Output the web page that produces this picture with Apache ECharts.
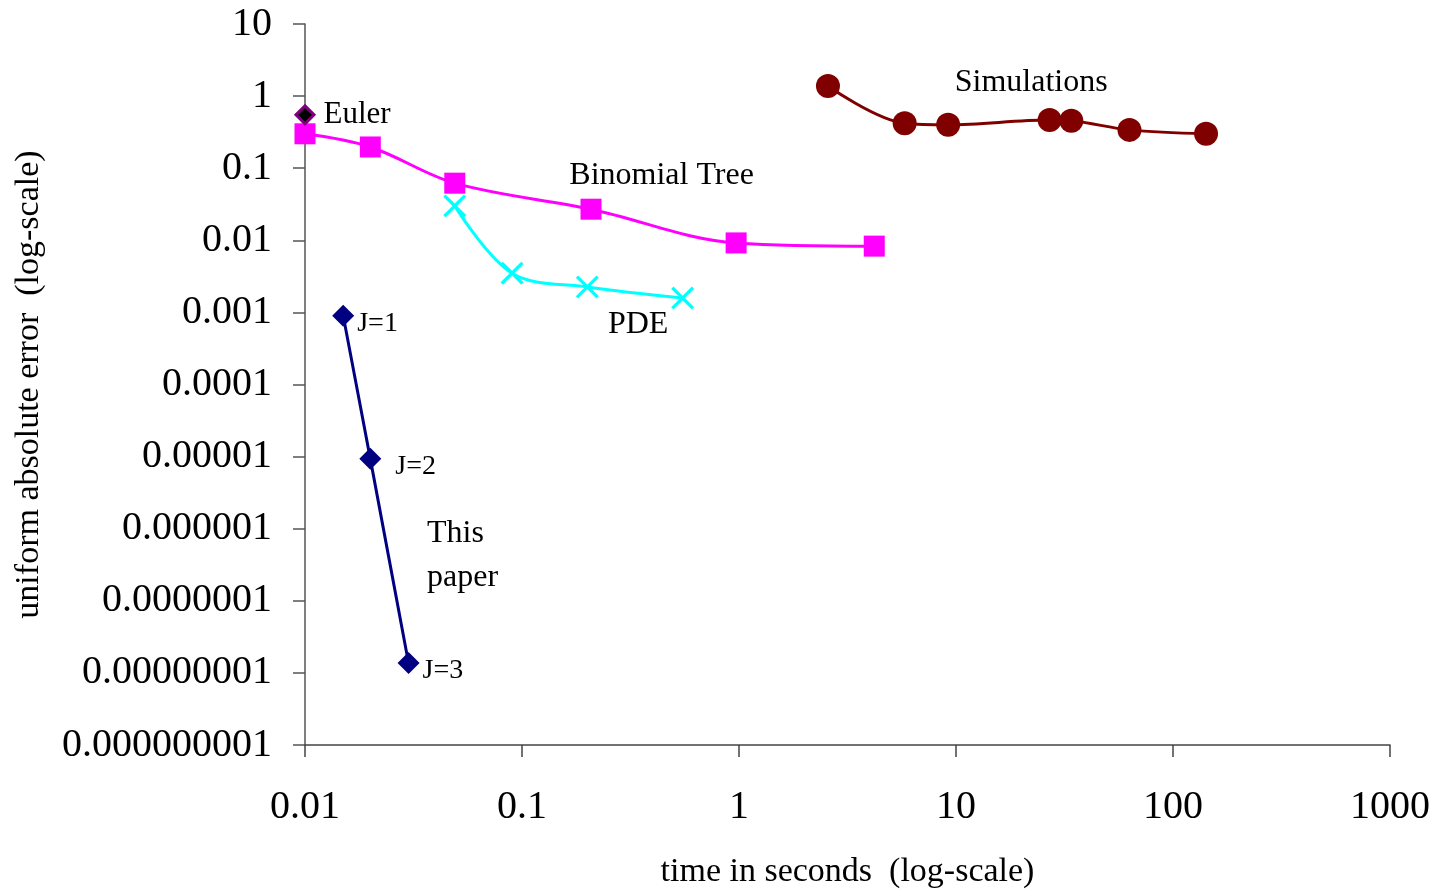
<!DOCTYPE html>
<html>
<head>
<meta charset="utf-8">
<script src="https://cdn.jsdelivr.net/npm/echarts@6/dist/echarts.min.js"></script>
<style>
  html, body { margin: 0; padding: 0; background: #fff; }
  #main { width: 1442px; height: 894px; }
</style>
</head>
<body>
<div id="main"></div>
<script>
// time in seconds / uniform absolute error
let eulerTime = [0.01];
let eulerErr = [0.55];

let binomialTime = [0.01, 0.02, 0.049, 0.208, 0.97, 4.2];
let binomialErr = [0.3, 0.197, 0.062, 0.027, 0.0092, 0.0083];

let pdeTime = [0.049, 0.09, 0.2, 0.55];
let pdeErr = [0.03, 0.0035, 0.00225, 0.00158];

let paperTime = [0.015, 0.02, 0.03];
let paperErr = [0.0009, 0.0000093, 0.0000000137];
let paperLabels = ['J=1', 'J=2', 'J=3'];

let simTime = [2.57, 5.8, 9.2, 27, 34, 63, 142];
let simErr = [1.38, 0.42, 0.4, 0.465, 0.455, 0.34, 0.3];

// free text notes (anchor in data space)
let noteText = ['Binomial Tree', 'PDE', 'Simulations', 'This\npaper'];
let noteTime = [0.44, 0.343, 22.2, 0.0365];
let noteErr = [0.08, 0.00067, 1.52, 0.00000043];
let noteAlign = ['center', 'center', 'center', 'left'];

const FONT = 'Liberation Serif';

function zip(xs, ys) {
  return xs.map((x, i) => [x, ys[i]]);
}

function decimalLabel(v) {
  let e = Math.round(Math.log10(v));
  if (e >= 0) return String(Math.round(v));
  return Number(Math.pow(10, e)).toFixed(-e);
}

let xPath = 'path://M0,1L1,0L5,4L9,0L10,1L6,5L10,9L9,10L5,6L1,10L0,9L4,5Z';

let chart = echarts.init(document.getElementById('main'));

let option = {
  animation: false,
  grid: {
    left: 305,
    right: 52,
    top: 24,
    bottom: 149,
    containLabel: false,
    outerBoundsMode: 'none'
  },
  xAxis: {
    type: 'log',
    logBase: 10,
    min: 0.01,
    max: 1000,
    splitNumber: 5,
    name: 'time in seconds  (log-scale)',
    nameLocation: 'middle',
    nameGap: 110,
    nameTextStyle: { fontFamily: FONT, fontSize: 34, color: '#000' },
    axisLine: { lineStyle: { color: '#444', width: 1.5 } },
    axisTick: { length: 12, lineStyle: { color: '#444', width: 1.5 } },
    splitLine: { show: false },
    minorTick: { show: false },
    axisLabel: {
      margin: 42,
      fontFamily: FONT,
      fontSize: 40,
      color: '#000',
      formatter: decimalLabel
    }
  },
  yAxis: {
    type: 'log',
    logBase: 10,
    min: 0.000000001,
    max: 10,
    splitNumber: 10,
    name: 'uniform absolute error  (log-scale)',
    nameLocation: 'middle',
    nameGap: 259,
    nameRotate: 90,
    nameTextStyle: { fontFamily: FONT, fontSize: 34, color: '#000' },
    axisLine: { lineStyle: { color: '#555', width: 1.5 } },
    axisTick: { length: 12, lineStyle: { color: '#555', width: 1.5 } },
    splitLine: { show: false },
    axisLabel: {
      margin: 33,
      fontFamily: FONT,
      fontSize: 40,
      color: '#000',
      formatter: decimalLabel
    }
  },
  series: [
    {
      name: 'Binomial Tree',
      type: 'line',
      smooth: 0.35,
      data: zip(binomialTime, binomialErr),
      symbol: 'rect',
      symbolSize: 21,
      lineStyle: { color: '#FF00FF', width: 3 },
      itemStyle: { color: '#FF00FF' }
    },
    {
      name: 'Euler',
      type: 'line',
      data: zip(eulerTime, eulerErr),
      symbol: 'diamond',
      symbolSize: 18,
      itemStyle: { color: '#000', borderColor: '#800080', borderWidth: 3 },
      label: {
        show: true,
        position: 'right',
        distance: 8,
        formatter: 'Euler',
        fontFamily: FONT,
        fontSize: 31,
        color: '#000'
      }
    },
    {
      name: 'PDE',
      type: 'line',
      smooth: 0.35,
      data: zip(pdeTime, pdeErr),
      symbol: xPath,
      symbolSize: 23,
      lineStyle: { color: '#00FFFF', width: 3 },
      itemStyle: { color: '#00FFFF' }
    },
    {
      name: 'This paper',
      type: 'line',
      smooth: 0.2,
      data: zip(paperTime, paperErr).map((p, i) => ({
        value: p,
        name: paperLabels[i],
        label: i === 1 ? { distance: 14 } : {}
      })),
      symbol: 'diamond',
      symbolSize: 22,
      lineStyle: { color: '#000080', width: 3 },
      itemStyle: { color: '#000080' },
      label: {
        show: true,
        position: 'right',
        distance: 3,
        offset: [0, 8],
        formatter: '{b}',
        fontFamily: FONT,
        fontSize: 28,
        color: '#000'
      }
    },
    {
      name: 'Simulations',
      type: 'line',
      smooth: 0.35,
      data: zip(simTime, simErr),
      symbol: 'circle',
      symbolSize: 24,
      lineStyle: { color: '#800000', width: 3 },
      itemStyle: { color: '#800000' }
    },
    {
      name: 'notes',
      type: 'scatter',
      symbolSize: 0,
      silent: true,
      itemStyle: { opacity: 1 },
      data: noteText.map((t, i) => ({
        value: [noteTime[i], noteErr[i]],
        name: t,
        label: { align: noteAlign[i] }
      })),
      label: {
        show: true,
        position: 'inside',
        formatter: '{b}',
        fontFamily: FONT,
        fontSize: 32,
        lineHeight: 44,
        color: '#000',
        opacity: 1,
        textBorderWidth: 0
      }
    }
  ]
};

chart.setOption(option);
</script>
</body>
</html>
